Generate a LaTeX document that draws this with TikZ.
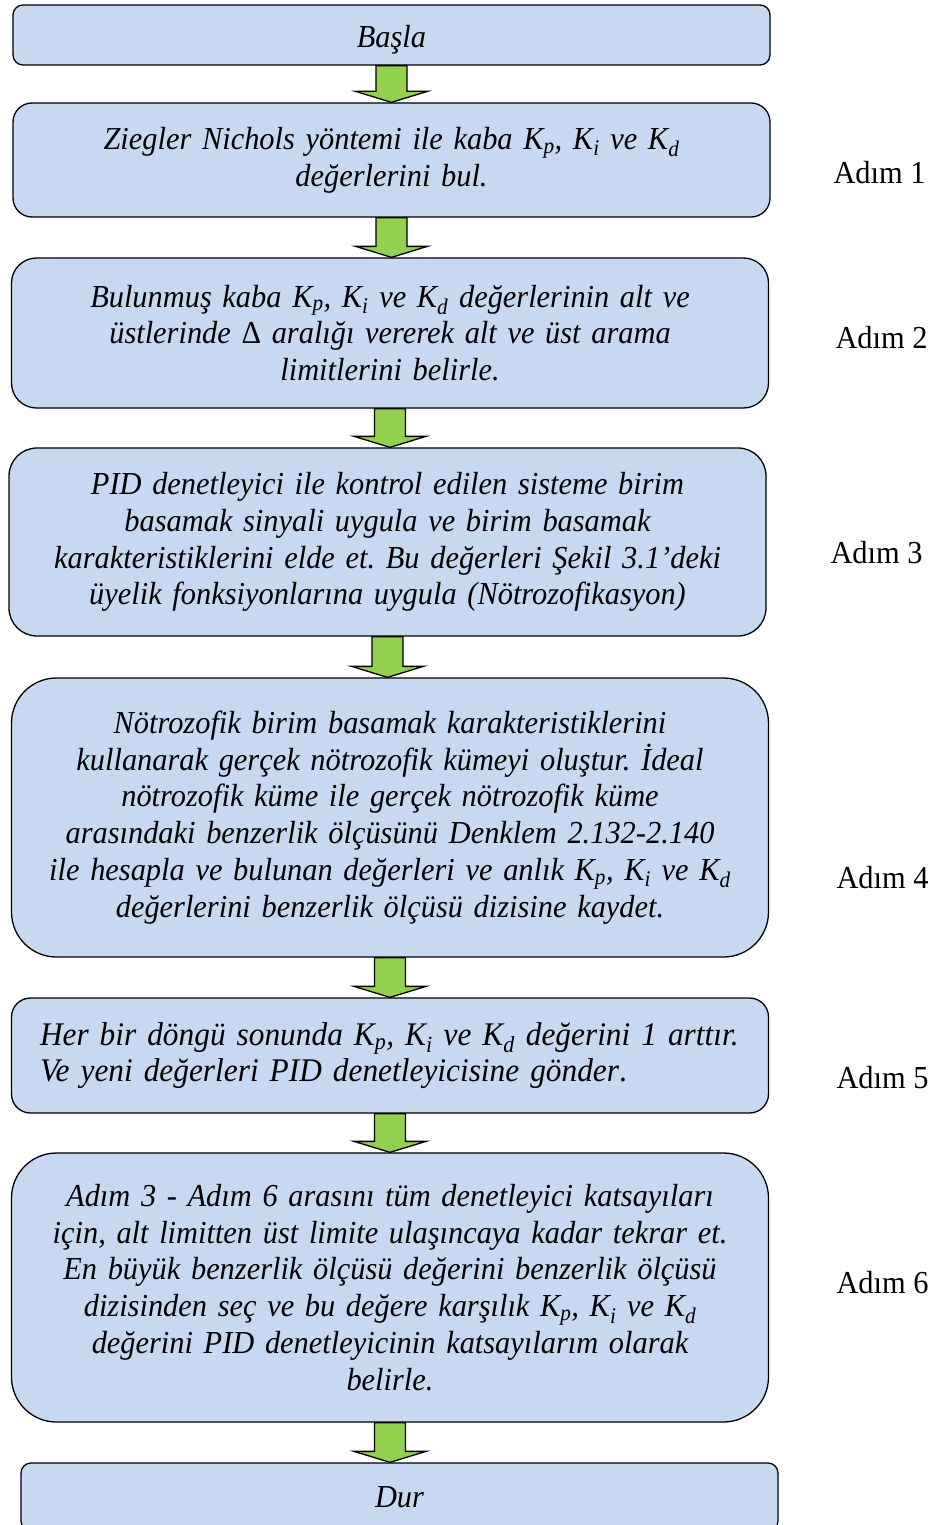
\documentclass[tikz,border=0pt]{standalone}
\usepackage{fontspec}
\setmainfont{Liberation Serif}[FakeStretch=0.95]
\definecolor{boxblue}{HTML}{C6D9F1}
\definecolor{arrgreen}{HTML}{92D050}
\usetikzlibrary{calc}
\frenchspacing
\newcommand{\Kp}{K\textsubscript{p}}
\newcommand{\Ki}{K\textsubscript{i}}
\newcommand{\Kd}{K\textsubscript{d}}
% block arrow from the bottom of one box to the top of the next
\newcommand{\flowarrow}[2]{%
  \draw[flowarr] let \p1=(#1.south), \p2=(#2.north) in
    (\x1-15.5,\y1) -- (\x1+15.5,\y1) -- (\x1+15.5,\y2+11) -- (\x1+36,\y2+11)
    -- (\x1,\y2) -- (\x1-36,\y2+11) -- (\x1-15.5,\y2+11) -- cycle;}

\begin{document}
\begin{tikzpicture}[x=1pt, y=1pt,
    box/.style={draw, line width=1.3pt, fill=boxblue, minimum width=757pt,
                align=center, text width=735pt, inner sep=0pt,
                font=\fontsize{32}{36.8}\selectfont\itshape},
    flowarr/.style={draw, line width=1.3pt, fill=arrgreen, line join=miter},
    step label/.style={font=\fontsize{32}{36.8}\selectfont, anchor=west}
  ]
    \useasboundingbox (0,0) rectangle (946,-1525);

    % Boxes
    \node[box, minimum height=60pt, rounded corners=10pt, text height=26pt, text depth=0pt] (start) at (391.5,-35) {Başla};
    \node[box, minimum height=114pt, rounded corners=19pt] (s1) at (391.5,-160)
      {Ziegler Nichols yöntemi ile kaba \Kp, \Ki\ ve \Kd\\ değerlerini bul.};
    \node[box, minimum height=150pt, rounded corners=25pt] (s2) at (390,-333)
      {Bulunmuş kaba \Kp, \Ki\ ve \Kd\ değerlerinin alt ve\\
       üstlerinde {\upshape Δ} aralığı vererek alt ve üst arama\\
       limitlerini belirle.};
    \node[box, minimum height=188pt, rounded corners=28pt] (s3) at (387.5,-542)
      {PID denetleyici ile kontrol edilen sisteme birim\\
       basamak sinyali uygula ve birim basamak\\
       karakteristiklerini elde et. Bu değerleri Şekil 3.1’deki\\
       üyelik fonksiyonlarına uygula (Nötrozofikasyon)};
    \node[box, minimum height=279pt, rounded corners=45pt] (s4) at (390,-817.5)
      {Nötrozofik birim basamak karakteristiklerini\\
       kullanarak gerçek nötrozofik kümeyi oluştur. İdeal\\
       nötrozofik küme ile gerçek nötrozofik küme\\
       arasındaki benzerlik ölçüsünü Denklem 2.132-2.140\\
       ile hesapla ve bulunan değerleri ve anlık \Kp, \Ki\ ve \Kd\\
       değerlerini benzerlik ölçüsü dizisine kaydet.};
    \node[box, minimum height=115pt, rounded corners=19pt, align=left, text width=700pt,
          font=\fontsize{33}{36}\selectfont\itshape] (s5) at (390,-1055.5)
      {Her bir döngü sonunda \Kp, \Ki\ ve \Kd\ değerini 1 arttır.\\
       Ve yeni değerleri PID denetleyicisine gönder{\upshape .}};
    \node[box, minimum height=269pt, rounded corners=45pt] (s6) at (390,-1287.5)
      {Adım 3 - Adım 6 arasını tüm denetleyici katsayıları\\
       için, alt limitten üst limite ulaşıncaya kadar tekrar et.\\
       En büyük benzerlik ölçüsü değerini benzerlik ölçüsü\\
       dizisinden seç ve bu değere karşılık \Kp, \Ki\ ve \Kd\\
       değerini PID denetleyicinin katsayılarım olarak\\
       belirle.};
    \node[box, minimum height=68pt, rounded corners=10pt] (stop) at (399.5,-1497) {Dur};

    % Step labels
    \node[step label] (a1) at (830,-173) {Adım 1};
    \node[step label] (a2) at (832,-338) {Adım 2};
    \node[step label] (a3) at (827,-553) {Adım 3};
    \node[step label] (a4) at (833,-878) {Adım 4};
    \node[step label] (a5) at (833,-1078) {Adım 5};
    \node[step label] (a6) at (833,-1283) {Adım 6};

    % Arrows
    \flowarrow{start}{s1}
    \flowarrow{s1}{s2}
    \flowarrow{s2}{s3}
    \flowarrow{s3}{s4}
    \flowarrow{s4}{s5}
    \flowarrow{s5}{s6}
    \flowarrow{s6}{stop}
\end{tikzpicture}
\end{document}
